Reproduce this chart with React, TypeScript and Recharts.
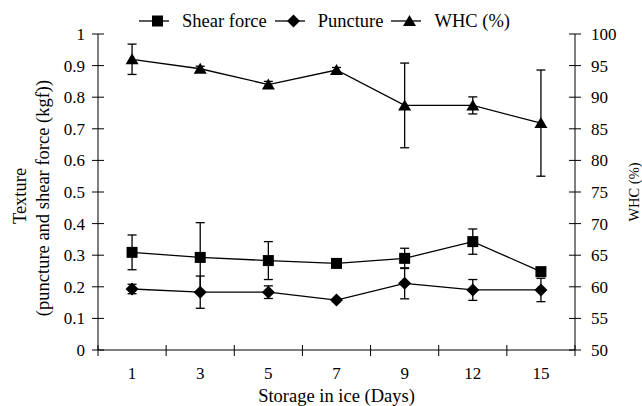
import React from "react";
import { LineChart, Line, XAxis, YAxis, ErrorBar, Legend } from "recharts";

// storage days and measured means / standard deviations
const days = ["1", "3", "5", "7", "9", "12", "15"];
const shearForce = [0.309, 0.293, 0.283, 0.274, 0.29, 0.343, 0.248];
const shearForceSd = [0.055, 0.11, 0.06, 0.008, 0.032, 0.04, 0.012];
const puncture = [0.193, 0.183, 0.183, 0.158, 0.211, 0.19, 0.19];
const punctureSd = [0.015, 0.051, 0.02, 0.005, 0.049, 0.033, 0.037];
const whc = [96.0, 94.5, 92.0, 94.3, 88.7, 88.7, 85.9];
const whcSd = [2.4, 0.4, 0.5, 0.4, 6.7, 1.35, 8.4];

const leftTicks = [0, 0.1, 0.2, 0.3, 0.4, 0.5, 0.6, 0.7, 0.8, 0.9, 1];
const rightTicks = [50, 55, 60, 65, 70, 75, 80, 85, 90, 95, 100];
const seriesOrder = ["shear", "puncture", "whc"];

const data = days.map((day, i) => ({
  day,
  shear: shearForce[i],
  shearErr: shearForceSd[i],
  puncture: puncture[i],
  punctureErr: punctureSd[i],
  whc: whc[i],
  whcErr: whcSd[i],
}));

const W = 642;
const H = 406;
const LEFT_W = 98;
const RIGHT_W = 67;
const XAXIS_H = 56;
const AXIS_L = LEFT_W;
const AXIS_R = W - RIGHT_W;
const AXIS_B = H - XAXIS_H;
const BAND = (AXIS_R - AXIS_L) / days.length;
const FONT = "Liberation Serif";

const txt = { fontFamily: FONT, fill: "#000" };

// markers
const Square = ({ cx, cy }) => <rect x={cx - 5.5} y={cy - 5.5} width={11} height={11} fill="#000" />;
const Diamond = ({ cx, cy }) => (
  <polygon points={`${cx},${cy - 6.5} ${cx + 6.5},${cy} ${cx},${cy + 6.5} ${cx - 6.5},${cy}`} fill="#000" />
);
const Triangle = ({ cx, cy }) => (
  <polygon points={`${cx},${cy - 6} ${cx + 6.5},${cy + 5} ${cx - 6.5},${cy + 5}`} fill="#000" />
);
const markers = { shear: Square, puncture: Diamond, whc: Triangle };

// ticks that cross the axis line
const LeftTick = ({ y, payload }) => (
  <g>
    <line x1={AXIS_L - 6} x2={AXIS_L + 6} y1={y} y2={y} stroke="#000" />
    <text x={AXIS_L - 13} y={y} dy="0.35em" textAnchor="end" fontSize={17} style={txt}>
      {payload.value}
    </text>
  </g>
);

const RightTick = ({ y, payload }) => (
  <g>
    <line x1={AXIS_R - 6} x2={AXIS_R + 6} y1={y} y2={y} stroke="#000" />
    <text x={AXIS_R + 16} y={y} dy="0.35em" textAnchor="start" fontSize={17} style={txt}>
      {payload.value}
    </text>
  </g>
);

const DayTick = ({ x, payload, index }) => (
  <g>
    <line x1={AXIS_L + BAND * index} x2={AXIS_L + BAND * index} y1={AXIS_B - 5} y2={AXIS_B + 6} stroke="#000" />
    {index === days.length - 1 && (
      <line x1={AXIS_R} x2={AXIS_R} y1={AXIS_B - 5} y2={AXIS_B + 6} stroke="#000" />
    )}
    <text x={x} y={AXIS_B + 23} dy="0.35em" textAnchor="middle" fontSize={17} style={txt}>
      {payload.value}
    </text>
  </g>
);

const LeftTitle = ({ viewBox }) => {
  const cy = viewBox.y + viewBox.height / 2;
  return (
    <g transform={`translate(26, ${cy}) rotate(-90)`}>
      <text x={-4} y={0} textAnchor="middle" fontSize={18.5} style={txt}>
        Texture
      </text>
      <text x={-6} y={23} textAnchor="middle" fontSize={18.5} style={txt}>
        (puncture and shear force (kgf))
      </text>
    </g>
  );
};

const RightTitle = ({ viewBox }) => {
  const cy = viewBox.y + viewBox.height / 2;
  return (
    <g transform={`translate(639, ${cy}) rotate(-90)`}>
      <text x={0} y={0} textAnchor="middle" fontSize={14.5} style={txt}>
        WHC (%)
      </text>
    </g>
  );
};

const LegendContent = ({ payload }) => (
  <div
    style={{
      height: 34,
      boxSizing: "border-box",
      paddingTop: 8,
      display: "flex",
      alignItems: "center",
      justifyContent: "center",
      paddingLeft: 15,
      fontFamily: FONT,
      fontSize: 18.5,
      color: "#000",
    }}
  >
    {(payload || []).map((entry) => {
      const Mark = markers[entry.dataKey];
      return (
        <div key={entry.dataKey} style={{ display: "flex", alignItems: "center", marginRight: 8 }}>
          <svg width={30} height={16} style={{ marginRight: 13 }}>
            <line x1={0} x2={30} y1={8} y2={8} stroke="#000" strokeWidth={1.3} />
            <Mark cx={18.5} cy={8} />
          </svg>
          <span>{entry.value}</span>
        </div>
      );
    })}
  </div>
);

export default function App() {
  const dot = (key) => (props) => {
    const Mark = markers[key];
    return <Mark key={`${key}-${props.index}`} cx={props.cx} cy={props.cy} />;
  };

  return (
    <div style={{ position: "absolute", left: 0, top: 0, width: W, height: H, background: "#fff" }}>
      <LineChart width={W} height={H} data={data} margin={{ top: 0, right: 0, bottom: 0, left: 0 }}>
        <Legend
          verticalAlign="top"
          align="center"
          content={LegendContent}
          itemSorter={(item) => seriesOrder.indexOf(item.dataKey)}
          wrapperStyle={{ top: 0, left: 0, width: W }}
        />

        <XAxis
          dataKey="day"
          scale="band"
          height={XAXIS_H}
          axisLine={{ stroke: "#000" }}
          tickLine={false}
          interval={0}
          tick={DayTick}
          label={{
            value: "Storage in ice (Days)",
            position: "insideBottom",
            offset: 4,
            fontSize: 18.5,
            fontFamily: FONT,
            fill: "#000",
          }}
        />

        <YAxis
          yAxisId="left"
          width={LEFT_W}
          domain={[0, 1]}
          ticks={leftTicks}
          interval={0}
          axisLine={{ stroke: "#000" }}
          tickLine={false}
          tick={LeftTick}
          label={<LeftTitle />}
        />

        <YAxis
          yAxisId="right"
          orientation="right"
          width={RIGHT_W}
          domain={[50, 100]}
          ticks={rightTicks}
          interval={0}
          axisLine={{ stroke: "#000" }}
          tickLine={false}
          tick={RightTick}
          label={<RightTitle />}
        />

        <Line
          yAxisId="left"
          dataKey="shear"
          name="Shear force"
          stroke="#000"
          strokeWidth={1.3}
          dot={dot("shear")}
          isAnimationActive={false}
        >
          <ErrorBar dataKey="shearErr" direction="y" width={4.5} stroke="#000" strokeWidth={1.3} />
        </Line>

        <Line
          yAxisId="left"
          dataKey="puncture"
          name="Puncture"
          stroke="#000"
          strokeWidth={1.3}
          dot={dot("puncture")}
          isAnimationActive={false}
        >
          <ErrorBar dataKey="punctureErr" direction="y" width={4.5} stroke="#000" strokeWidth={1.3} />
        </Line>

        <Line
          yAxisId="right"
          dataKey="whc"
          name="WHC (%)"
          stroke="#000"
          strokeWidth={1.3}
          dot={dot("whc")}
          isAnimationActive={false}
        >
          <ErrorBar dataKey="whcErr" direction="y" width={4.5} stroke="#000" strokeWidth={1.3} />
        </Line>
      </LineChart>
    </div>
  );
}
